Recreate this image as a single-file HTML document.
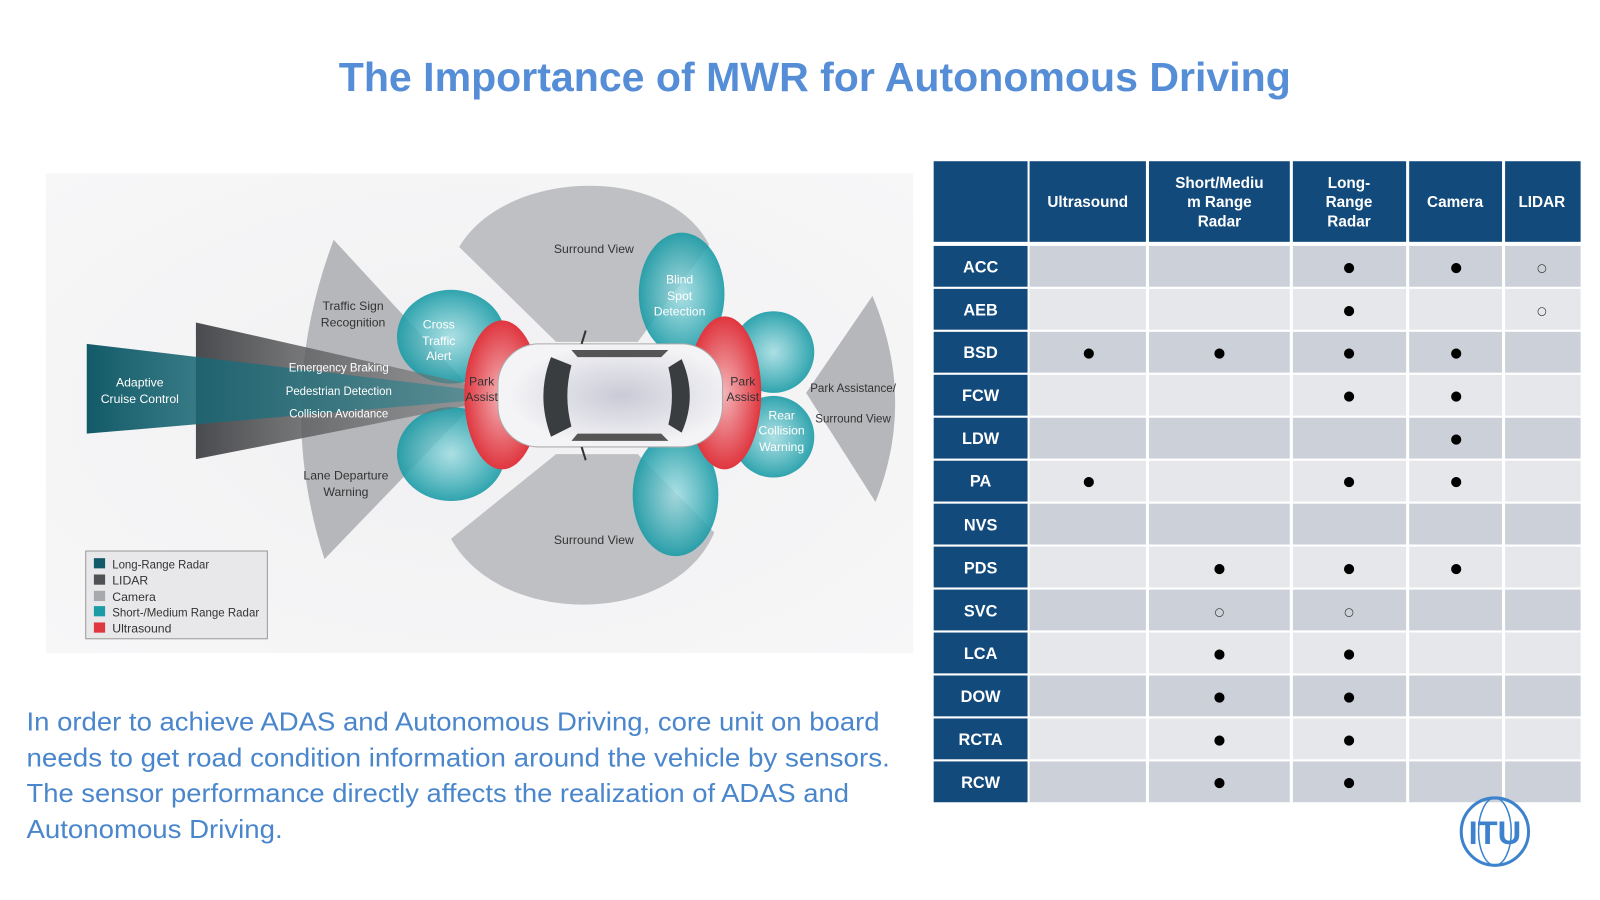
<!DOCTYPE html>
<html><head><meta charset="utf-8"><style>
html,body{margin:0;padding:0;background:#fff;width:1600px;height:900px;overflow:hidden}
svg{display:block}
.n{font-family:"Liberation Sans Narrow","Liberation Sans",sans-serif;font-size:12px;fill:#333}
.nw{font-family:"Liberation Sans Narrow","Liberation Sans",sans-serif;font-size:12px;fill:#fff}
.h{font-family:"Liberation Sans",sans-serif;font-weight:bold;font-size:15px;fill:#fff}
.l{font-family:"Liberation Sans",sans-serif;font-weight:bold;font-size:16px;fill:#fff}
.d{font-family:"DejaVu Sans",sans-serif;font-size:13px;fill:#000}
.o{font-family:"DejaVu Sans",sans-serif;font-size:11px;fill:#333}
.p{font-family:"Liberation Sans",sans-serif;font-size:25px;fill:#4a86cc}
</style></head><body>
<svg width="1600" height="900" viewBox="0 0 1568 882" preserveAspectRatio="none">
<defs>
<linearGradient id="lr" x1="0" x2="1"><stop offset="0" stop-color="#135a68"/><stop offset="1" stop-color="#2a8a96" stop-opacity=".5"/></linearGradient>
<linearGradient id="li" x1="0" x2="1"><stop offset="0" stop-color="#4a4b4e"/><stop offset="1" stop-color="#777" stop-opacity=".5"/></linearGradient>
<radialGradient id="tl"><stop offset="0" stop-color="#9adbe0" stop-opacity=".8"/><stop offset="1" stop-color="#1a9ba6" stop-opacity=".9"/></radialGradient>
<radialGradient id="rd"><stop offset="0" stop-color="#f3b4b8"/><stop offset="1" stop-color="#e0363f"/></radialGradient>
<radialGradient id="car" cx=".55" cy=".5"><stop offset="0" stop-color="#c9cad6"/><stop offset="1" stop-color="#f4f4f6"/></radialGradient>
<radialGradient id="bg" cx=".5" cy=".5" r=".7"><stop offset="0" stop-color="#f0f0f2"/><stop offset="1" stop-color="#f7f7f8"/></radialGradient>
</defs>
<rect x="45" y="170" width="850" height="470" fill="url(#bg)"/>
<text x="332" y="89" textLength="933" lengthAdjust="spacingAndGlyphs" style="font-family:'Liberation Sans',sans-serif;font-weight:bold;font-size:40px;fill:#558dd6">The Importance of MWR for Autonomous Driving</text>

<!-- camera sectors -->
<path d="M545,335 L450,242 C495,165 655,160 695,240 L625,335 Z" fill="#bfc0c3"/>
<path d="M545,445 L442,528 C490,615 660,615 700,522 L625,445 Z" fill="#bfc0c3"/>
<path d="M470,390 L327,235 Q268,392 318,548 Z" fill="#b6b7ba"/>
<path d="M790,385 L855,290 Q898,392 858,492 Z" fill="#b6b7ba"/>
<!-- teal lobes -->
<ellipse cx="442" cy="330" rx="53" ry="46" fill="url(#tl)"/>
<ellipse cx="442" cy="445" rx="53" ry="46" fill="url(#tl)"/>
<ellipse cx="668" cy="288" rx="42" ry="60" fill="url(#tl)"/>
<ellipse cx="662" cy="485" rx="42" ry="60" fill="url(#tl)"/>
<ellipse cx="758" cy="345" rx="40" ry="40" fill="url(#tl)"/>
<ellipse cx="758" cy="428" rx="40" ry="40" fill="url(#tl)"/>
<!-- lidar / lrr -->
<polygon points="192,316 192,450 480,393 480,381" fill="url(#li)"/>
<polygon points="85,337 85,425 480,391 480,384" fill="url(#lr)"/>
<!-- red -->
<ellipse cx="492" cy="387" rx="37" ry="73" fill="url(#rd)"/>
<ellipse cx="710" cy="385" rx="36" ry="75" fill="url(#rd)"/>
<!-- car -->
<rect x="488" y="337" width="220" height="101" rx="40" fill="url(#car)" stroke="#aaa"/>
<path d="M540,350 Q525,388 540,428 L560,418 Q552,388 560,358 Z" fill="#3a3d40"/>
<path d="M668,352 Q684,388 668,424 L655,416 Q662,388 655,360 Z" fill="#3a3d40"/>
<path d="M560,343 L655,343 L648,350 L566,350 Z" fill="#555"/>
<path d="M560,432 L655,432 L648,425 L566,425 Z" fill="#555"/>
<line x1="570" y1="337" x2="574" y2="324" stroke="#333" stroke-width="2"/>
<line x1="570" y1="438" x2="574" y2="451" stroke="#333" stroke-width="2"/>

<!-- labels -->
<text class="nw" text-anchor="middle" x="137" y="379">Adaptive</text>
<text class="nw" text-anchor="middle" x="137" y="395">Cruise Control</text>
<text class="nw" text-anchor="middle" x="332" y="364" textLength="98" lengthAdjust="spacingAndGlyphs">Emergency Braking</text>
<text class="nw" text-anchor="middle" x="332" y="387" textLength="104" lengthAdjust="spacingAndGlyphs">Pedestrian Detection</text>
<text class="nw" text-anchor="middle" x="332" y="409" textLength="97" lengthAdjust="spacingAndGlyphs">Collision Avoidance</text>
<text class="n" text-anchor="middle" x="346" y="304">Traffic Sign</text>
<text class="n" text-anchor="middle" x="346" y="320">Recognition</text>
<text class="n" text-anchor="middle" x="339" y="470">Lane Departure</text>
<text class="n" text-anchor="middle" x="339" y="486">Warning</text>
<text class="nw" text-anchor="middle" x="430" y="322">Cross</text>
<text class="nw" text-anchor="middle" x="430" y="338">Traffic</text>
<text class="nw" text-anchor="middle" x="430" y="353">Alert</text>
<text class="n" text-anchor="middle" x="472" y="378">Park</text>
<text class="n" text-anchor="middle" x="472" y="393">Assist</text>
<text class="n" text-anchor="middle" x="728" y="378">Park</text>
<text class="n" text-anchor="middle" x="728" y="393">Assist</text>
<text class="n" text-anchor="middle" x="582" y="248">Surround View</text>
<text class="n" text-anchor="middle" x="582" y="533">Surround View</text>
<text class="nw" text-anchor="middle" x="666" y="278">Blind</text>
<text class="nw" text-anchor="middle" x="666" y="294">Spot</text>
<text class="nw" text-anchor="middle" x="666" y="309">Detection</text>
<text class="nw" text-anchor="middle" x="766" y="411">Rear</text>
<text class="nw" text-anchor="middle" x="766" y="426">Collision</text>
<text class="nw" text-anchor="middle" x="766" y="442">Warning</text>
<text class="n" text-anchor="middle" x="836" y="384" textLength="84" lengthAdjust="spacingAndGlyphs">Park Assistance/</text>
<text class="n" text-anchor="middle" x="836" y="414" textLength="74" lengthAdjust="spacingAndGlyphs">Surround View</text>

<!-- legend -->
<rect x="84" y="540" width="178" height="86" fill="#e8e8ea" stroke="#999"/>
<rect x="92" y="547" width="11" height="10" fill="#135a68"/>
<rect x="92" y="563" width="11" height="10" fill="#505154"/>
<rect x="92" y="579" width="11" height="10" fill="#a8a9ac"/>
<rect x="92" y="594" width="11" height="10" fill="#1a9ba6"/>
<rect x="92" y="610" width="11" height="10" fill="#e0363f"/>
<text class="n" x="110" y="557" textLength="95" lengthAdjust="spacingAndGlyphs">Long-Range Radar</text>
<text class="n" x="110" y="573">LIDAR</text>
<text class="n" x="110" y="589">Camera</text>
<text class="n" x="110" y="604" textLength="144" lengthAdjust="spacingAndGlyphs">Short-/Medium Range Radar</text>
<text class="n" x="110" y="620">Ultrasound</text>

<!-- paragraph -->
<text class="p" x="26" y="716" textLength="836" lengthAdjust="spacingAndGlyphs">In order to achieve ADAS and Autonomous Driving, core unit on board</text>
<text class="p" x="26" y="751" textLength="846" lengthAdjust="spacingAndGlyphs">needs to get road condition information around the vehicle by sensors.</text>
<text class="p" x="26" y="786" textLength="806" lengthAdjust="spacingAndGlyphs">The sensor performance directly affects the realization of ADAS and</text>
<text class="p" x="26" y="821" textLength="251" lengthAdjust="spacingAndGlyphs">Autonomous Driving.</text>

<!-- table header -->
<g fill="#134a7c">
<rect x="915" y="158" width="92" height="79"/><rect x="1009" y="158" width="114" height="79"/>
<rect x="1126" y="158" width="138" height="79"/><rect x="1267" y="158" width="111" height="79"/>
<rect x="1381" y="158" width="91" height="79"/><rect x="1475" y="158" width="74" height="79"/>
</g>
<g text-anchor="middle">
<text class="h" x="1066" y="203">Ultrasound</text>
<text class="h" x="1195" y="184">Short/Mediu</text><text class="h" x="1195" y="203">m Range</text><text class="h" x="1195" y="222">Radar</text>
<text class="h" x="1322" y="184">Long-</text><text class="h" x="1322" y="203">Range</text><text class="h" x="1322" y="222">Radar</text>
<text class="h" x="1426" y="203">Camera</text>
<text class="h" x="1511" y="203">LIDAR</text>
</g>
<!-- rows -->
<g>
<rect x="1009" y="241" width="540" height="40" fill="#cbd0d9"/>
<rect x="1009" y="283.1" width="540" height="40" fill="#e5e7eb"/>
<rect x="1009" y="325.2" width="540" height="40" fill="#cbd0d9"/>
<rect x="1009" y="367.3" width="540" height="40" fill="#e5e7eb"/>
<rect x="1009" y="409.4" width="540" height="40" fill="#cbd0d9"/>
<rect x="1009" y="451.5" width="540" height="40" fill="#e5e7eb"/>
<rect x="1009" y="493.6" width="540" height="40" fill="#cbd0d9"/>
<rect x="1009" y="535.7" width="540" height="40" fill="#e5e7eb"/>
<rect x="1009" y="577.8" width="540" height="40" fill="#cbd0d9"/>
<rect x="1009" y="619.9" width="540" height="40" fill="#e5e7eb"/>
<rect x="1009" y="662" width="540" height="40" fill="#cbd0d9"/>
<rect x="1009" y="704.1" width="540" height="40" fill="#e5e7eb"/>
<rect x="1009" y="746.2" width="540" height="40" fill="#cbd0d9"/>
</g>
<g fill="#fff">
<rect x="1123" y="241" width="3" height="546"/><rect x="1264" y="241" width="3" height="546"/>
<rect x="1378" y="241" width="3" height="546"/><rect x="1472" y="241" width="3" height="546"/>
</g>
<g fill="#134a7c">
<rect x="915" y="241" width="92" height="40"/><rect x="915" y="283.1" width="92" height="40"/>
<rect x="915" y="325.2" width="92" height="40"/><rect x="915" y="367.3" width="92" height="40"/>
<rect x="915" y="409.4" width="92" height="40"/><rect x="915" y="451.5" width="92" height="40"/>
<rect x="915" y="493.6" width="92" height="40"/><rect x="915" y="535.7" width="92" height="40"/>
<rect x="915" y="577.8" width="92" height="40"/><rect x="915" y="619.9" width="92" height="40"/>
<rect x="915" y="662" width="92" height="40"/><rect x="915" y="704.1" width="92" height="40"/>
<rect x="915" y="746.2" width="92" height="40"/>
</g>
<g text-anchor="middle">
<text class="l" x="961" y="267">ACC</text>
<text class="l" x="961" y="309">AEB</text>
<text class="l" x="961" y="351">BSD</text>
<text class="l" x="961" y="393">FCW</text>
<text class="l" x="961" y="435">LDW</text>
<text class="l" x="961" y="477">PA</text>
<text class="l" x="961" y="520">NVS</text>
<text class="l" x="961" y="562">PDS</text>
<text class="l" x="961" y="604">SVC</text>
<text class="l" x="961" y="646">LCA</text>
<text class="l" x="961" y="688">DOW</text>
<text class="l" x="961" y="730">RCTA</text>
<text class="l" x="961" y="772">RCW</text>
</g>
<g text-anchor="middle">
<text class="d" x="1322" y="266">●</text><text class="d" x="1427" y="266">●</text><text class="o" x="1511" y="266">○</text>
<text class="d" x="1322" y="308">●</text><text class="o" x="1511" y="308">○</text>
<text class="d" x="1067" y="350">●</text><text class="d" x="1195" y="350">●</text><text class="d" x="1322" y="350">●</text><text class="d" x="1427" y="350">●</text>
<text class="d" x="1322" y="392">●</text><text class="d" x="1427" y="392">●</text>
<text class="d" x="1427" y="434">●</text>
<text class="d" x="1067" y="476">●</text><text class="d" x="1322" y="476">●</text><text class="d" x="1427" y="476">●</text>
<text class="d" x="1195" y="561">●</text><text class="d" x="1322" y="561">●</text><text class="d" x="1427" y="561">●</text>
<text class="o" x="1195" y="603">○</text><text class="o" x="1322" y="603">○</text>
<text class="d" x="1195" y="645">●</text><text class="d" x="1322" y="645">●</text>
<text class="d" x="1195" y="687">●</text><text class="d" x="1322" y="687">●</text>
<text class="d" x="1195" y="729">●</text><text class="d" x="1322" y="729">●</text>
<text class="d" x="1195" y="771">●</text><text class="d" x="1322" y="771">●</text>
</g>
<!-- ITU logo -->
<circle cx="1465" cy="815" r="33" fill="none" stroke="#3d82cc" stroke-width="3"/>
<ellipse cx="1465" cy="815" rx="16" ry="33" fill="none" stroke="#3d82cc" stroke-width="1.5"/>
<text x="1465" y="827" text-anchor="middle" style="font-family:'Liberation Sans',sans-serif;font-weight:bold;font-size:32px;fill:#3d82cc">ITU</text>
</svg>
</body></html>
